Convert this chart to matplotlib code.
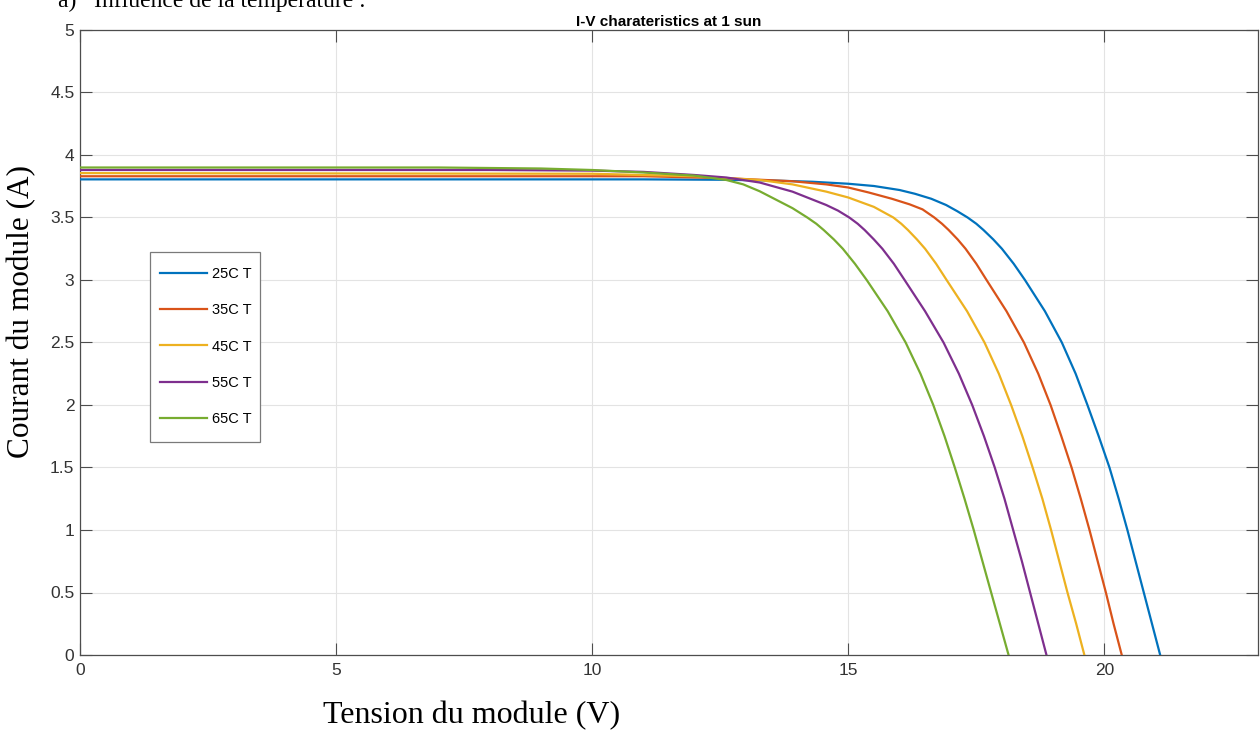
import matplotlib
matplotlib.use("Agg")
import matplotlib.pyplot as plt
from matplotlib.ticker import FixedLocator
from matplotlib.patches import Rectangle

# ---- data ----
labels = ["25C T", "35C T", "45C T", "55C T", "65C T"]
colors = ["#0072BD", "#D95319", "#EDB120", "#7E2F8E", "#77AC30"]

v25 = [0, 11, 12.5, 13.5, 14.3, 15.0, 15.5, 16.0, 16.3, 16.62, 16.91, 17.13, 17.33, 17.5, 17.64,
       17.83, 18.0, 18.23, 18.45, 18.84, 19.17, 19.44, 19.67, 19.89, 20.10, 20.28, 20.45, 20.61,
       20.77, 20.93, 21.09]
i25 = [3.805, 3.805, 3.802, 3.796, 3.786, 3.77, 3.752, 3.72, 3.69, 3.65, 3.60, 3.55, 3.50, 3.45, 3.40,
       3.325, 3.25, 3.13, 3.0, 2.75, 2.5, 2.25, 2.0, 1.75, 1.5, 1.25, 1.0, 0.75,
       0.5, 0.25, 0.0]

v35 = [0, 11, 12.6, 13.91, 14.57, 15.0, 15.4, 15.85, 16.2, 16.45, 16.68, 16.83, 16.96, 17.135,
       17.29, 17.5, 17.70, 18.09, 18.43, 18.71, 18.95, 19.16, 19.36, 19.54, 19.71, 19.87, 20.03,
       20.18, 20.34]
i35 = [3.83, 3.83, 3.815, 3.79, 3.765, 3.74, 3.70, 3.65, 3.605, 3.565, 3.50, 3.45, 3.40, 3.325,
       3.25, 3.13, 3.0, 2.75, 2.5, 2.25, 2.0, 1.75, 1.5, 1.25, 1.0, 0.75, 0.5,
       0.25, 0.0]

v45 = [0, 10, 12.0, 13.27, 13.91, 14.57, 15.0, 15.5, 15.88, 16.035, 16.165, 16.34, 16.50, 16.715,
       16.92, 17.32, 17.66, 17.94, 18.18, 18.40, 18.60, 18.79, 18.96, 19.12, 19.28, 19.45, 19.61]
i45 = [3.855, 3.85, 3.83, 3.80, 3.765, 3.707, 3.66, 3.585, 3.50, 3.45, 3.40, 3.325, 3.25, 3.13,
       3.0, 2.75, 2.5, 2.25, 2.0, 1.75, 1.5, 1.25, 1.0, 0.75, 0.5, 0.25, 0.0]

v55 = [0, 8, 10, 11, 12.0, 12.62, 13.27, 13.91, 14.57, 14.8, 15.02, 15.184, 15.32, 15.50, 15.666,
       15.89, 16.10, 16.50, 16.86, 17.16, 17.42, 17.65, 17.86, 18.05, 18.22, 18.39, 18.55, 18.71,
       18.87]
i55 = [3.88, 3.88, 3.875, 3.865, 3.84, 3.82, 3.78, 3.707, 3.60, 3.555, 3.50, 3.45, 3.40, 3.325, 3.25,
       3.13, 3.0, 2.75, 2.5, 2.25, 2.0, 1.75, 1.5, 1.25, 1.0, 0.75, 0.5, 0.25,
       0.0]

v65 = [0, 7, 9, 10, 11, 12.0, 12.62, 12.95, 13.27, 13.91, 14.20, 14.376, 14.52, 14.718, 14.894,
       15.13, 15.36, 15.77, 16.12, 16.41, 16.66, 16.88, 17.08, 17.27, 17.45, 17.62, 17.79, 17.96,
       18.13]
i65 = [3.90, 3.90, 3.892, 3.88, 3.86, 3.835, 3.80, 3.765, 3.71, 3.575, 3.50, 3.45, 3.40, 3.325, 3.25,
       3.13, 3.0, 2.75, 2.5, 2.25, 2.0, 1.75, 1.5, 1.25, 1.0, 0.75, 0.5, 0.25,
       0.0]

xticks = [0, 5, 10, 15, 20]
yticks = [0, 0.5, 1, 1.5, 2, 2.5, 3, 3.5, 4, 4.5, 5]
ytick_labels = ["0", "0.5", "1", "1.5", "2", "2.5", "3", "3.5", "4", "4.5", "5"]

title = "I-V charateristics at 1 sun"
xlabel = "Tension du module (V)"
ylabel = "Courant du module (A)"
header = "a)   Influence de la température :"

# ---- figure ----
W, H = 1260, 740
fig = plt.figure(figsize=(W / 100, H / 100), dpi=100)
ax = fig.add_axes([80 / W, 1 - 655 / H, (1258 - 80) / W, (655 - 30) / H])

sans = ["Liberation Sans", "DejaVu Sans"]
serif = ["Liberation Serif", "DejaVu Serif"]

series = [(v25, i25), (v35, i35), (v45, i45), (v55, i55), (v65, i65)]
for (v, i), c, lab in zip(series, colors, labels):
    ax.plot(v, i, color=c, lw=1.6, label=lab, solid_joinstyle="round", zorder=3)

ax.set_xlim(0, 23)
ax.set_ylim(0, 5)
ax.xaxis.set_major_locator(FixedLocator(xticks))
ax.yaxis.set_major_locator(FixedLocator(yticks))
ax.set_yticklabels(ytick_labels)
ax.grid(True, color="#e3e3e3", lw=0.8)
ax.set_axisbelow(True)
axc = "#4d4d4d"
for s in ax.spines.values():
    s.set_color(axc)
    s.set_linewidth(0.9)
ax.tick_params(direction="in", length=8.5, width=0.8, color=axc,
               top=True, right=True, labelcolor="#333333", labelsize=12.5)
ax.tick_params(axis="x", pad=6)
ax.tick_params(axis="y", pad=4)
for t in ax.get_xticklabels() + ax.get_yticklabels():
    t.set_fontfamily(sans)

ax.set_title(title, fontsize=11, fontweight="bold", family=sans, pad=3)

# legend box (drawn over the grid) and legend entries
box = Rectangle((150 / W, 1 - 442 / H), 110 / W, 190 / H, transform=fig.transFigure,
                facecolor="white", edgecolor="#7a7a7a", lw=0.9, zorder=5, clip_on=False)
ax.add_patch(box)
leg = ax.legend(loc="center left", bbox_to_anchor=(160 / W, 1 - 346.5 / H),
                bbox_transform=fig.transFigure, borderaxespad=0, borderpad=0,
                frameon=False, handlelength=3.2, labelspacing=1.52,
                handletextpad=0.35, prop={"family": sans, "size": 10.5})
leg.set_zorder(6)

fig.text(472 / W, 1 - 716 / H, xlabel, ha="center", va="center",
         fontsize=23, family=serif, color="black")
fig.text(22 / W, 1 - 312 / H, ylabel, ha="center", va="center",
         rotation=90, fontsize=22.5, family=serif, color="black")
fig.text(58 / W, 1 - 7 / H, header, ha="left", va="baseline",
         fontsize=17, family=serif, color="black")

fig.savefig("out.png", dpi=100)
